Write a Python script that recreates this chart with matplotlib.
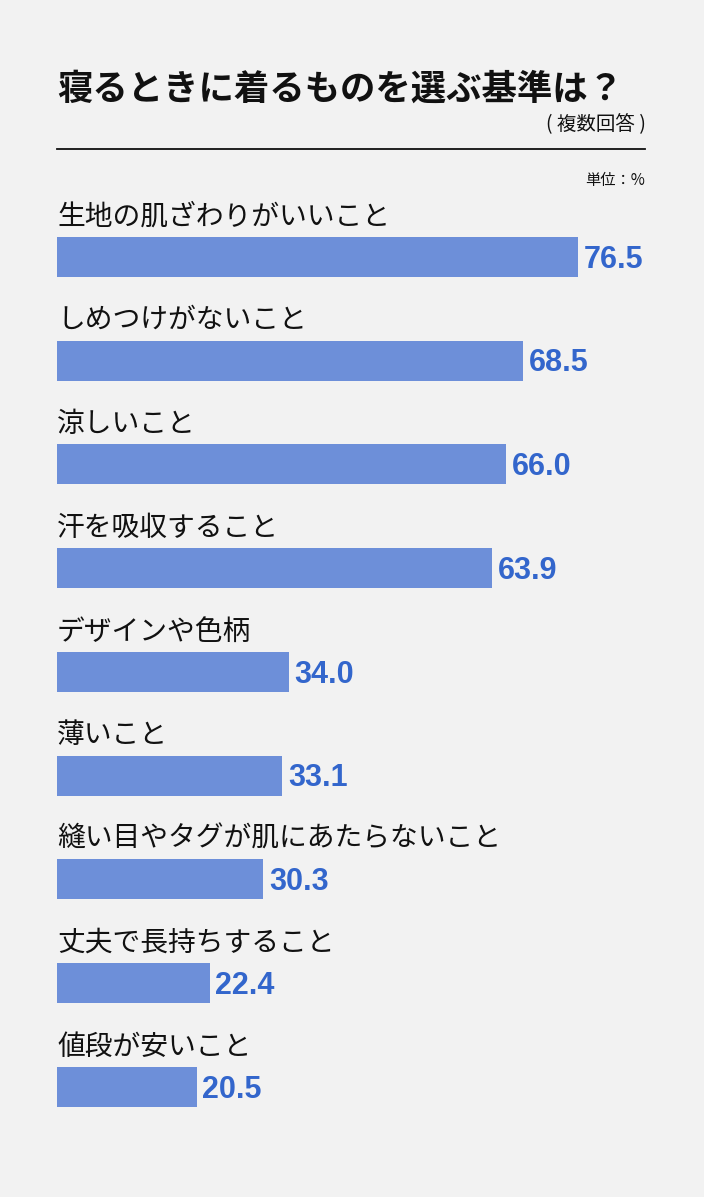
import matplotlib.pyplot as plt

plt.rcParams['font.family'] = ['Noto Sans CJK JP', 'DejaVu Sans']

categories = ['生地の肌ざわりがいいこと', 'しめつけがないこと', '涼しいこと', '汗を吸収すること',
              'デザインや色柄', '薄いこと', '縫い目やタグが肌にあたらないこと',
              '丈夫で長持ちすること', '値段が安いこと']
values = [76.5, 68.5, 66.0, 63.9, 34.0, 33.1, 30.3, 22.4, 20.5]

bg = '#f2f2f2'
bar_color = '#6d8fd9'
value_color = '#3366cc'

W, H = 704, 1197
fig = plt.figure(figsize=(W / 100, H / 100), dpi=100)
fig.patch.set_facecolor(bg)

# title block (pixel positions converted to figure fraction)
fig.text(57 / W, 1 - 89 / H, '寝るときに着るものを選ぶ基準は？', fontsize=25.5,
         fontweight='bold', va='center', ha='left', color='#111111')
fig.text(646 / W, 1 - 125 / H, '( 複数回答 )', fontsize=14, va='center', ha='right', color='#111111')
fig.add_artist(plt.Line2D([57 / W, 645 / W], [1 - 149 / H, 1 - 149 / H], color='#111111', lw=1.3))
fig.text(645 / W, 1 - 180 / H, '単位：%', fontsize=11, va='center', ha='right', color='#111111')

# chart area: 9 slots of ~104px starting at y=205
slot = 103.75
left, right = 57, 647
top, bottom = 205, 205 + slot * len(values)
ax = fig.add_axes([left / W, 1 - bottom / H, (right - left) / W, (bottom - top) / H])
ax.set_facecolor(bg)
ax.set_xlim(0, (right - left) / 6.81)
ax.set_ylim(len(values) - 0.5, -0.5)

ys = list(range(len(values)))
ax.barh(ys, values, height=40 / slot, color=bar_color, left=0)

for y, cat, v in zip(ys, categories, values):
    ax.text(0, y - 0.39, cat, fontsize=20, va='center', ha='left', color='#111111')
    ax.annotate(f'{v:.1f}', xy=(v, y), xytext=(4, -2), textcoords='offset points',
                fontsize=22, fontweight='bold', va='center', ha='left', color=value_color,
                family=['Liberation Sans', 'DejaVu Sans'])

ax.axis('off')

fig.savefig('out.png', dpi=100, facecolor=bg)
